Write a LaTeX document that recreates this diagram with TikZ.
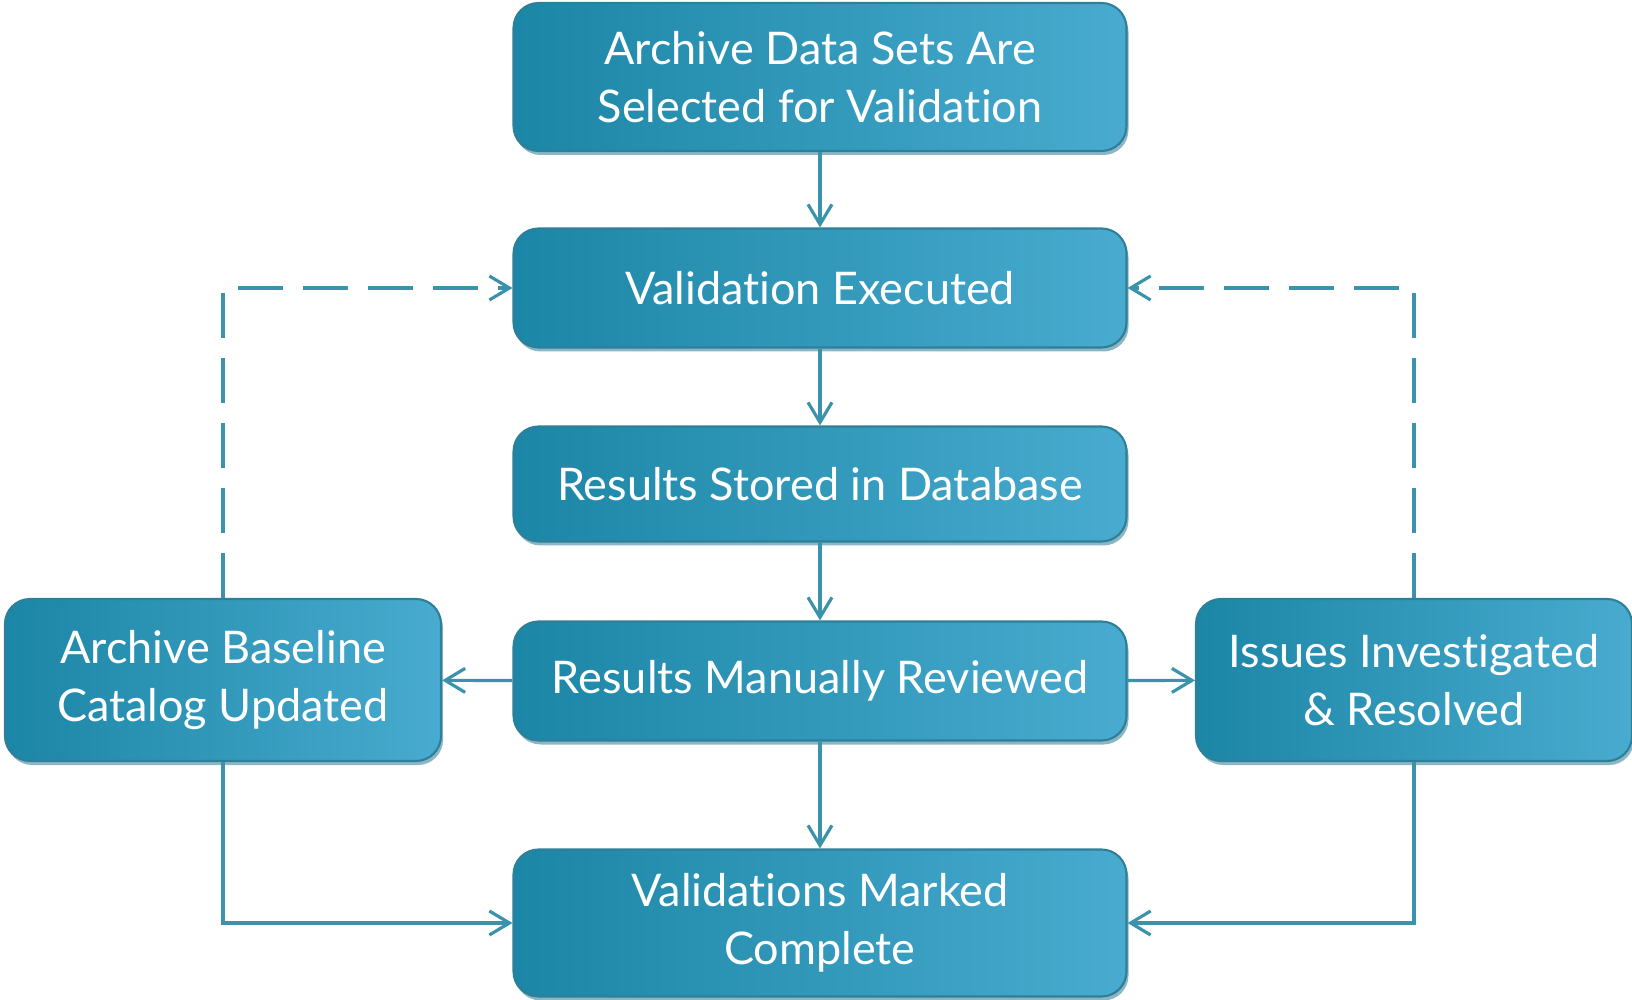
\documentclass[tikz,border=0pt]{standalone}
\usepackage{fontspec}
\setmainfont[Ligatures=NoCommon]{Lato}
\usepackage{tikz}
\usetikzlibrary{
arrows.meta,
positioning,
shadows
}
\definecolor{valdark}{HTML}{1C86A6}
\definecolor{vallight}{HTML}{48ABCF}
\definecolor{valedge}{HTML}{2F7F98}
\definecolor{valline}{HTML}{3A93AB}

\begin{document}
\begin{tikzpicture}[
  >={Straight Barb[length=2mm,width=2.4mm]},
  every node/.style={font=\fontsize{12.8}{16.5}\selectfont},
  stage/.style={draw=valedge, line width=0.6pt, rounded corners=0.25cm,
                left color=valdark, right color=vallight,
                text=white, align=center, minimum width=6.13cm,
                drop shadow={shadow xshift=0.02cm, shadow yshift=-0.04cm,
                             fill=valedge!70, opacity=0.8}},
  sidebox/.style={stage, minimum width=4.36cm, minimum height=1.62cm},
  flow/.style={->, valline, line width=0.9pt},
  loop/.style={flow, dash pattern=on 0.45cm off 0.2cm}
]
\useasboundingbox (0,0) rectangle (16.32,-10);

%% ── MAIN COLUMN ─────────────────────────────────────────────────
\node[stage, minimum height=1.48cm] (select) at (8.20,-0.77)
  {Archive Data Sets Are\\Selected for Validation};
\node[stage, minimum height=1.19cm] (execute) at (8.20,-2.88)
  {Validation Executed};
\node[stage, minimum height=1.15cm] (store) at (8.20,-4.84)
  {Results Stored in Database};
\node[stage, minimum height=1.19cm] (review) at (8.20,-6.81)
  {Results Manually Reviewed};
\node[stage, minimum height=1.47cm] (complete) at (8.20,-9.23)
  {Validations Marked\\Complete};

%% ── SIDE BOXES ──────────────────────────────────────────────────
\node[sidebox] (catalog) at (2.23,-6.80)
  {Archive Baseline\\Catalog Updated};
\node[sidebox] (issues) at (14.14,-6.80)
  {Issues Investigated\\\& Resolved};

%% ── CONNECTORS ──────────────────────────────────────────────────
\draw[flow] (select) -- (execute);
\draw[flow] (execute) -- (store);
\draw[flow] (store) -- (review);
\draw[flow] (review) -- (complete);
\draw[flow] (review) -- (catalog);
\draw[flow] (review) -- (issues);
\draw[flow] (catalog.south) |- (complete.west);
\draw[flow] (issues.south) |- (complete.east);

%% loop back to validation
\draw[loop] (catalog.north) |- (execute.west);
\draw[loop] (issues.north) |- (execute.east);

\end{tikzpicture}
\end{document}
